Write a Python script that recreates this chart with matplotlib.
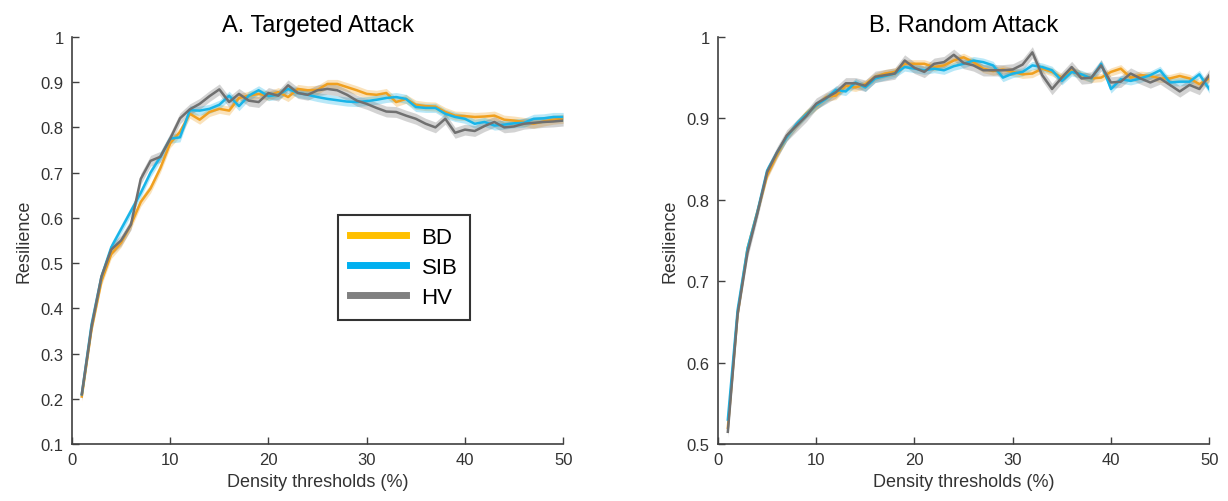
import numpy as np
import matplotlib
matplotlib.use("Agg")
import matplotlib.pyplot as plt

plt.rcParams["font.family"] = ["Liberation Sans", "DejaVu Sans"]

# -----------------------------
# Data
# -----------------------------

density = np.arange(1, 51)

targeted_bd = [0.205, 0.355, 0.460, 0.520, 0.545, 0.585, 0.635, 0.665, 0.710, 0.765,
               0.790, 0.830, 0.817, 0.834, 0.841, 0.837, 0.865, 0.870, 0.874, 0.870,
               0.878, 0.867, 0.885, 0.882, 0.883, 0.896, 0.896, 0.889, 0.882, 0.874,
               0.872, 0.876, 0.856, 0.863, 0.850, 0.847, 0.846, 0.834, 0.826, 0.825,
               0.823, 0.824, 0.826, 0.817, 0.815, 0.812, 0.808, 0.813, 0.817, 0.819]
targeted_sib = [0.210, 0.365, 0.470, 0.535, 0.575, 0.615, 0.655, 0.700, 0.735, 0.775,
                0.778, 0.838, 0.837, 0.841, 0.850, 0.870, 0.847, 0.870, 0.882, 0.869,
                0.872, 0.885, 0.876, 0.872, 0.867, 0.863, 0.860, 0.857, 0.856, 0.858,
                0.861, 0.865, 0.867, 0.863, 0.845, 0.843, 0.843, 0.830, 0.823, 0.819,
                0.808, 0.812, 0.804, 0.806, 0.809, 0.810, 0.819, 0.820, 0.823, 0.823]
targeted_hv = [0.210, 0.360, 0.470, 0.530, 0.550, 0.585, 0.686, 0.726, 0.735, 0.775,
               0.820, 0.840, 0.852, 0.869, 0.884, 0.856, 0.874, 0.859, 0.856, 0.876,
               0.870, 0.893, 0.876, 0.872, 0.882, 0.885, 0.882, 0.872, 0.859, 0.852,
               0.843, 0.835, 0.834, 0.826, 0.819, 0.808, 0.800, 0.819, 0.788, 0.795,
               0.792, 0.803, 0.812, 0.800, 0.802, 0.808, 0.810, 0.812, 0.813, 0.815]

random_bd = [0.520, 0.660, 0.740, 0.785, 0.830, 0.855, 0.878, 0.892, 0.906, 0.915,
             0.926, 0.928, 0.940, 0.938, 0.942, 0.951, 0.955, 0.957, 0.967, 0.967,
             0.967, 0.963, 0.965, 0.971, 0.975, 0.969, 0.961, 0.958, 0.960, 0.957,
             0.954, 0.955, 0.961, 0.957, 0.950, 0.959, 0.953, 0.949, 0.950, 0.957,
             0.961, 0.950, 0.953, 0.952, 0.949, 0.949, 0.952, 0.949, 0.942, 0.949]
random_sib = [0.530, 0.665, 0.740, 0.785, 0.836, 0.858, 0.877, 0.893, 0.905, 0.916,
              0.924, 0.935, 0.933, 0.944, 0.938, 0.949, 0.952, 0.955, 0.963, 0.961,
              0.959, 0.961, 0.959, 0.964, 0.967, 0.971, 0.969, 0.965, 0.950, 0.955,
              0.957, 0.965, 0.963, 0.959, 0.946, 0.957, 0.954, 0.949, 0.967, 0.936,
              0.948, 0.946, 0.949, 0.953, 0.959, 0.944, 0.945, 0.945, 0.954, 0.936]
random_hv = [0.515, 0.660, 0.735, 0.783, 0.834, 0.858, 0.879, 0.891, 0.903, 0.918,
             0.925, 0.932, 0.943, 0.943, 0.940, 0.951, 0.953, 0.955, 0.971, 0.962,
             0.957, 0.967, 0.969, 0.978, 0.968, 0.965, 0.959, 0.959, 0.959, 0.960,
             0.966, 0.981, 0.953, 0.936, 0.950, 0.963, 0.949, 0.950, 0.965, 0.944,
             0.945, 0.955, 0.949, 0.944, 0.949, 0.941, 0.933, 0.941, 0.936, 0.953]

groups = ["BD", "SIB", "HV"]
colors = ["#F0A020", "#18B4E8", "#707070"]
legend_colors = ["#FFC000", "#00B0F0", "#808080"]

# standard error bands (rough width of the shading)
targeted_sem = [0.010, 0.010, 0.012]
random_sem = [0.005, 0.005, 0.007]

# -----------------------------
# Plot
# -----------------------------

fig = plt.figure(figsize=(12.28, 5.02), dpi=100)
ax_a = fig.add_axes([0.0586, 0.1135, 0.400, 0.811])
ax_b = fig.add_axes([0.5847, 0.1135, 0.400, 0.811])

panels = [
    (ax_a, [targeted_bd, targeted_sib, targeted_hv], targeted_sem,
     "A. Targeted Attack", (0.1, 1.0), np.round(np.arange(0.1, 1.01, 0.1), 1)),
    (ax_b, [random_bd, random_sib, random_hv], random_sem,
     "B. Random Attack", (0.5, 1.0), np.round(np.arange(0.5, 1.01, 0.1), 1)),
]

for ax, series, sems, title, ylim, yticks in panels:
    for vals, sem, c in zip(series, sems, colors):
        vals = np.array(vals)
        ax.fill_between(density, vals - sem, vals + sem, color=c, alpha=0.3, lw=0)
    for vals, c in zip(series, colors):
        ax.plot(density, vals, color=c, lw=1.8)

    ax.set_xlim(0, 50)
    ax.set_ylim(*ylim)
    ax.set_xticks([0, 10, 20, 30, 40, 50])
    ax.set_yticks(yticks)
    ax.set_yticklabels([("%g" % t) for t in yticks])
    ax.set_title(title, fontsize=17, pad=4)
    ax.set_xlabel("Density thresholds (%)", fontsize=13, color="#333333", labelpad=4)
    ax.set_ylabel("Resilience", fontsize=13, color="#333333", labelpad=6)
    ax.tick_params(direction="in", length=5, width=1, colors="#404040",
                   labelsize=12, labelcolor="#333333", pad=6)
    for side in ["top", "right"]:
        ax.spines[side].set_visible(False)
    for side in ["left", "bottom"]:
        ax.spines[side].set_color("#404040")
        ax.spines[side].set_linewidth(1.2)

handles = [plt.Line2D([], [], color=c, lw=5) for c in legend_colors]
leg = ax_a.legend(handles, groups, loc="lower left", bbox_to_anchor=(0.542, 0.305),
                  fontsize=16, frameon=True, fancybox=False, edgecolor="black",
                  handlelength=2.5, handletextpad=0.7, borderpad=0.55,
                  labelspacing=0.4, borderaxespad=0)
leg.get_frame().set_linewidth(1.5)

fig.savefig("out.png", dpi=100)
